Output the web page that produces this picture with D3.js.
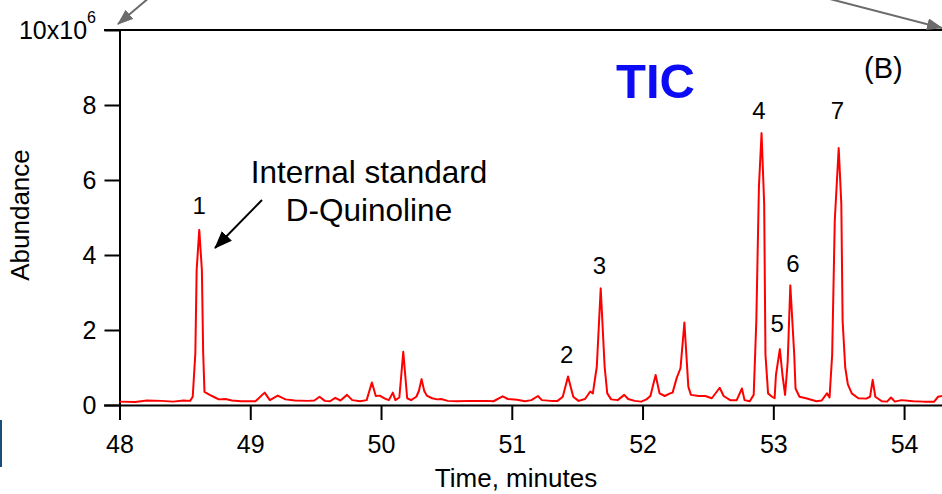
<!DOCTYPE html>
<html lang="en">
<head>
<meta charset="UTF-8">
<title>TIC chromatogram</title>
<style>
  body { margin: 0; background: #fff; }
  svg { display: block; font-family: "Liberation Sans", Arial, sans-serif; }
</style>
</head>
<body>
<svg id="chart" width="942" height="494"></svg>
<script src="https://cdn.jsdelivr.net/npm/d3@7"></script>
<script>
// retention time (minutes) and abundance (x10^6)
const times = [
  48.00, 48.12, 48.21, 48.32, 48.41, 48.49, 48.54, 48.56, 48.58, 48.59,
  48.61, 48.63, 48.64, 48.65, 48.69, 48.73, 48.76, 48.81, 48.86, 48.93,
  49.04, 49.11, 49.15, 49.21, 49.27, 49.34, 49.44, 49.49, 49.53, 49.57,
  49.61, 49.65, 49.69, 49.74, 49.78, 49.84, 49.89, 49.93, 49.96, 49.99,
  50.03, 50.06, 50.09, 50.11, 50.14, 50.155, 50.17, 50.185, 50.20, 50.23,
  50.27, 50.29, 50.31, 50.33, 50.35, 50.39, 50.43, 50.46, 50.51, 50.58,
  50.68, 50.81, 50.86, 50.93, 50.97, 51.04, 51.10, 51.15, 51.20, 51.23,
  51.30, 51.35, 51.39, 51.43, 51.47, 51.51, 51.56, 51.60, 51.62, 51.65,
  51.68, 51.71, 51.73, 51.76, 51.81, 51.86, 51.89, 51.94, 51.99, 52.03,
  52.06, 52.10, 52.13, 52.17, 52.21, 52.23, 52.26, 52.29, 52.32, 52.35,
  52.37, 52.43, 52.48, 52.53, 52.59, 52.62, 52.67, 52.72, 52.76, 52.78,
  52.82, 52.85, 52.87, 52.89, 52.91, 52.93, 52.94, 52.96, 52.99, 53.01,
  53.02, 53.05, 53.07, 53.09, 53.11, 53.13, 53.16, 53.17, 53.20, 53.25,
  53.33, 53.37, 53.41, 53.43, 53.45, 53.47, 53.50, 53.52, 53.53, 53.55,
  53.57, 53.60, 53.65, 53.71, 53.74, 53.76, 53.78, 53.83, 53.87, 53.90,
  53.93, 53.98, 54.07, 54.15, 54.23, 54.26, 54.29
];
const abundance = [
  0.09, 0.08, 0.12, 0.11, 0.09, 0.12, 0.11, 0.22, 1.38, 3.60,
  4.67, 3.60, 1.38, 0.35, 0.27, 0.20, 0.15, 0.16, 0.12, 0.10,
  0.10, 0.33, 0.13, 0.25, 0.15, 0.12, 0.11, 0.12, 0.22, 0.11,
  0.10, 0.19, 0.12, 0.27, 0.13, 0.10, 0.13, 0.60, 0.24, 0.25,
  0.17, 0.13, 0.33, 0.13, 0.20, 0.80, 1.42, 0.80, 0.18, 0.13,
  0.22, 0.38, 0.69, 0.38, 0.25, 0.18, 0.15, 0.16, 0.11, 0.10,
  0.11, 0.11, 0.10, 0.23, 0.16, 0.14, 0.10, 0.13, 0.24, 0.13,
  0.11, 0.11, 0.22, 0.76, 0.22, 0.11, 0.16, 0.36, 0.31, 1.02,
  3.11, 1.02, 0.31, 0.15, 0.13, 0.27, 0.16, 0.11, 0.09, 0.15,
  0.24, 0.80, 0.31, 0.24, 0.31, 0.33, 0.71, 0.98, 2.20, 0.49,
  0.27, 0.24, 0.24, 0.18, 0.46, 0.24, 0.13, 0.13, 0.44, 0.13,
  0.10, 0.27, 2.24, 5.82, 7.25, 5.37, 1.34, 0.31, 0.22, 0.18,
  0.80, 1.49, 0.80, 0.27, 1.16, 3.19, 1.34, 0.44, 0.22, 0.18,
  0.10, 0.12, 0.31, 0.20, 1.34, 4.92, 6.85, 5.37, 2.24, 1.00,
  0.55, 0.31, 0.18, 0.17, 0.22, 0.67, 0.22, 0.10, 0.09, 0.20,
  0.09, 0.13, 0.10, 0.09, 0.09, 0.22, 0.24
];

const xTicks = [48, 49, 50, 51, 52, 53, 54];
const yTicks = [0, 2, 4, 6, 8, 10];

// peak numbers and where they sit (time, abundance of label baseline)
const peakLabels = ["1", "2", "3", "4", "5", "6", "7"];
const peakLabelTimes = [48.61, 51.42, 51.67, 52.89, 53.03, 53.15, 53.49];
const peakLabelValues = [5.09, 1.12, 3.49, 7.63, 1.95, 3.55, 7.63];

const svg = d3.select("#chart");
const font = "Liberation Sans, Arial, sans-serif";

const x = d3.scaleLinear().domain([48, 54.29]).range([119.5, 942]);
const y = d3.scaleLinear().domain([0, 10]).range([405, 30]);

// arrow heads
const defs = svg.append("defs");
defs.append("marker")
  .attr("id", "headBlack")
  .attr("viewBox", "0 0 18 14")
  .attr("markerUnits", "userSpaceOnUse")
  .attr("markerWidth", 18).attr("markerHeight", 14)
  .attr("refX", 17).attr("refY", 7)
  .attr("orient", "auto")
  .append("path").attr("d", "M0,0L18,7L0,14Z").attr("fill", "#000");
defs.append("marker")
  .attr("id", "headGray")
  .attr("viewBox", "0 0 16 12")
  .attr("markerUnits", "userSpaceOnUse")
  .attr("markerWidth", 16).attr("markerHeight", 12)
  .attr("refX", 15).attr("refY", 6)
  .attr("orient", "auto")
  .append("path").attr("d", "M0,0L16,6L0,12Z").attr("fill", "#6b6b6b");

// top frame
svg.append("line")
  .attr("x1", 104).attr("x2", 942)
  .attr("y1", y(10)).attr("y2", y(10))
  .attr("stroke", "#000").attr("stroke-width", 2);

// x axis
const xAxis = svg.append("g")
  .attr("transform", "translate(0," + y(0) + ")")
  .call(d3.axisBottom(x).tickValues(xTicks).tickSize(15).tickSizeOuter(0).tickPadding(15)
    .tickFormat(d3.format("d")));
xAxis.select(".domain").attr("stroke-width", 2).attr("d", "M104,0.5H942");
xAxis.selectAll(".tick line").attr("stroke-width", 2);
xAxis.selectAll(".tick text").attr("font-size", 25).attr("fill", "#000")
  .attr("font-family", font);

// y axis
const yAxis = svg.append("g")
  .attr("transform", "translate(" + x(48) + ",0)")
  .call(d3.axisLeft(y).tickValues(yTicks).tickSize(15).tickSizeOuter(0).tickPadding(8)
    .tickFormat(d => d === 10 ? "" : d));
yAxis.select(".domain").attr("stroke-width", 2);
yAxis.selectAll(".tick line").attr("stroke-width", 2);
yAxis.selectAll(".tick text").attr("font-size", 25).attr("fill", "#000")
  .attr("font-family", font);

// "10x10^6" top label
const topLabel = svg.append("text")
  .attr("x", 96).attr("y", y(10) + 9)
  .attr("text-anchor", "end")
  .attr("font-size", 25);
topLabel.append("tspan").text("10x10");
topLabel.append("tspan").attr("dy", -16).attr("font-size", 16).text("6");

// the trace
const line = d3.line()
  .x((d, i) => x(times[i]))
  .y((d, i) => y(abundance[i]));
svg.append("path")
  .attr("d", line(times))
  .attr("fill", "none")
  .attr("stroke", "#ff0000")
  .attr("stroke-width", 2)
  .attr("stroke-linejoin", "round");

// peak numbers
svg.selectAll(".peak")
  .data(peakLabels)
  .enter()
  .append("text")
  .attr("class", "peak")
  .attr("x", (d, i) => x(peakLabelTimes[i]))
  .attr("y", (d, i) => y(peakLabelValues[i]))
  .attr("text-anchor", "middle")
  .attr("font-size", 24)
  .text(d => d);

// annotations
svg.append("text")
  .attr("x", 369).attr("y", 183)
  .attr("text-anchor", "middle").attr("font-size", 31.5)
  .text("Internal standard");
svg.append("text")
  .attr("x", 369).attr("y", 221)
  .attr("text-anchor", "middle").attr("font-size", 31.5)
  .text("D-Quinoline");
svg.append("line")
  .attr("x1", 262).attr("y1", 200).attr("x2", 215).attr("y2", 248)
  .attr("stroke", "#000").attr("stroke-width", 2)
  .attr("marker-end", "url(#headBlack)");

svg.append("text")
  .attr("x", 616).attr("y", 98)
  .attr("font-size", 49).attr("font-weight", "bold")
  .attr("fill", "#0b0bf5")
  .text("TIC");
svg.append("text")
  .attr("x", 864).attr("y", 78)
  .attr("font-size", 29)
  .text("(B)");

// gray pointers at the top
svg.append("line")
  .attr("x1", 150).attr("y1", -3).attr("x2", 118).attr("y2", 24)
  .attr("stroke", "#6b6b6b").attr("stroke-width", 2)
  .attr("marker-end", "url(#headGray)");
svg.append("line")
  .attr("x1", 826).attr("y1", -2).attr("x2", 942).attr("y2", 28)
  .attr("stroke", "#6b6b6b").attr("stroke-width", 2)
  .attr("marker-end", "url(#headGray)");

// axis titles
svg.append("text")
  .attr("x", 516).attr("y", 487)
  .attr("text-anchor", "middle").attr("font-size", 26)
  .text("Time, minutes");
svg.append("text")
  .attr("transform", "translate(29,215) rotate(-90)")
  .attr("text-anchor", "middle").attr("font-size", 26)
  .text("Abundance");

// edge of a neighbouring panel
svg.append("rect")
  .attr("x", 0).attr("y", 420).attr("width", 2).attr("height", 47)
  .attr("fill", "#1b4d7a");
</script>
</body>
</html>
